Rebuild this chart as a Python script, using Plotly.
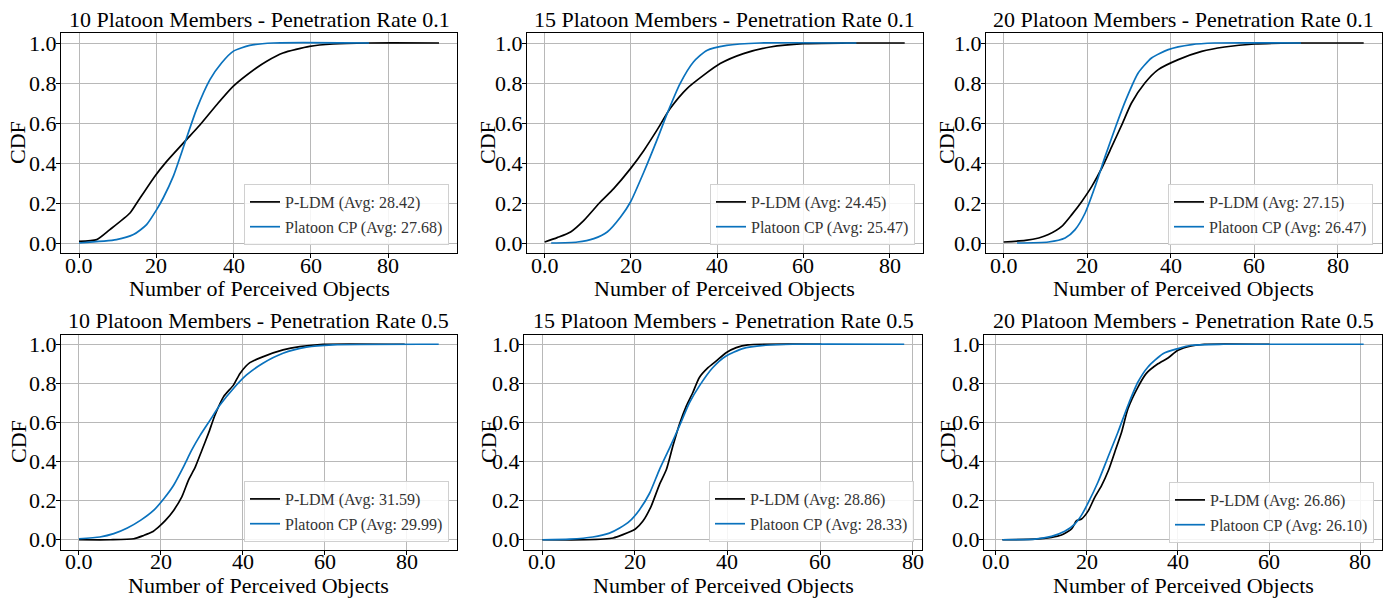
import plotly.graph_objects as go

# ---------------- data ----------------
titles = [
    "10 Platoon Members - Penetration Rate 0.1",
    "15 Platoon Members - Penetration Rate 0.1",
    "20 Platoon Members - Penetration Rate 0.1",
    "10 Platoon Members - Penetration Rate 0.5",
    "15 Platoon Members - Penetration Rate 0.5",
    "20 Platoon Members - Penetration Rate 0.5",
]
ldm_avg = ["28.42", "24.45", "27.15", "31.59", "28.86", "26.86"]
cp_avg = ["27.68", "25.47", "26.47", "29.99", "28.33", "26.10"]

# panel 1: 10 members, rate 0.1
ldm_x_1 = [0, 4.6, 8, 13.2, 15.3, 19.6, 22.7, 27.4, 31.3, 35.6, 39.9, 45.9, 48.5, 52.8, 59.7, 65.8, 75, 93.2]
ldm_y_1 = [0.008, 0.017, 0.067, 0.15, 0.21, 0.333, 0.408, 0.508, 0.59, 0.69, 0.783, 0.875, 0.908, 0.95, 0.983, 0.995, 1.0, 1.0]
cp_x_1 = [0, 9.7, 14.1, 17.5, 20.1, 21.8, 24.4, 27.4, 30.4, 33.9, 36.9, 39.9, 44.2, 50.3, 75.1]
cp_y_1 = [0.0, 0.017, 0.042, 0.092, 0.167, 0.225, 0.333, 0.5, 0.667, 0.817, 0.9, 0.958, 0.988, 1.0, 1.0]

# panel 2: 15 members, rate 0.1
ldm_x_2 = [0, 2.9, 6.0, 9.1, 12.9, 16.0, 19.9, 23.0, 26.0, 29.1, 33.0, 36.8, 40.7, 46.1, 52.3, 60, 70, 83.5]
ldm_y_2 = [0.005, 0.027, 0.055, 0.113, 0.205, 0.272, 0.372, 0.463, 0.563, 0.672, 0.772, 0.838, 0.897, 0.947, 0.98, 0.997, 1.0, 1.0]
cp_x_2 = [1.5, 7.6, 11.4, 14.5, 17.6, 19.9, 23.0, 26.0, 28.4, 31.4, 34.5, 37.6, 42.2, 49.9, 72.3]
cp_y_2 = [0.0, 0.005, 0.022, 0.055, 0.13, 0.205, 0.355, 0.513, 0.647, 0.797, 0.905, 0.963, 0.988, 1.0, 1.0]

# panel 3: 20 members, rate 0.1
ldm_x_3 = [0, 5.2, 8.4, 10.7, 13.9, 16.3, 18.7, 21.1, 23.5, 25.9, 28.3, 30.6, 33.8, 37.0, 41.8, 47.4, 52.9, 60.1, 70, 86.2]
ldm_y_3 = [0.005, 0.013, 0.025, 0.042, 0.083, 0.142, 0.208, 0.283, 0.375, 0.483, 0.592, 0.7, 0.8, 0.867, 0.917, 0.958, 0.98, 0.995, 1.0, 1.0]
cp_x_3 = [3.2, 10.7, 14.7, 17.1, 19.5, 21.9, 24.3, 26.7, 29.1, 32.2, 35.4, 39.4, 45.0, 50.5, 71.2]
cp_y_3 = [0.0, 0.005, 0.025, 0.067, 0.15, 0.283, 0.433, 0.575, 0.708, 0.85, 0.925, 0.967, 0.992, 1.0, 1.0]

# panel 4: 10 members, rate 0.5
ldm_x_4 = [0, 7.7, 13.4, 15.8, 17.8, 19.4, 21.1, 23.1, 25.1, 26.7, 28.4, 30.0, 31.6, 33.2, 35.3, 37.7, 39.3, 41.7, 45.0, 49.8, 53.9, 59.6, 79.5]
ldm_y_4 = [0.0, 0.0, 0.005, 0.022, 0.039, 0.065, 0.099, 0.15, 0.219, 0.304, 0.373, 0.458, 0.544, 0.638, 0.732, 0.791, 0.851, 0.906, 0.937, 0.971, 0.988, 1.0, 1.0]
cp_x_4 = [0, 5.1, 8.5, 11.8, 15.0, 18.2, 20.7, 23.1, 25.5, 27.5, 29.6, 32.0, 34.4, 37.7, 40.9, 44.9, 49.8, 55.5, 62.0, 87.8]
cp_y_4 = [0.005, 0.014, 0.031, 0.06, 0.099, 0.15, 0.21, 0.279, 0.373, 0.458, 0.535, 0.612, 0.689, 0.774, 0.843, 0.903, 0.954, 0.985, 0.997, 1.0]

# panel 5: 15 members, rate 0.5
ldm_x_5 = [0, 9.5, 15.3, 17.4, 20.1, 21.7, 23.5, 25.3, 26.8, 28.2, 29.6, 31.1, 32.5, 33.9, 35.8, 37.6, 39.7, 41.9, 44.4, 60.3]
ldm_y_5 = [0.0, 0.0, 0.009, 0.026, 0.055, 0.094, 0.171, 0.282, 0.359, 0.479, 0.59, 0.684, 0.752, 0.829, 0.88, 0.915, 0.957, 0.983, 0.997, 1.0]
cp_x_5 = [0, 5.9, 10.9, 14.5, 16.7, 18.8, 21.0, 23.2, 25.3, 27.5, 29.6, 31.8, 33.9, 36.8, 39.7, 43.3, 48.3, 54.1, 78.2]
cp_y_5 = [0.0, 0.003, 0.014, 0.034, 0.06, 0.094, 0.154, 0.239, 0.359, 0.47, 0.581, 0.701, 0.786, 0.88, 0.94, 0.978, 0.995, 1.0, 1.0]

# panel 6: 20 members, rate 0.5
ldm_x_6 = [1.4, 8.6, 12.2, 14.4, 16.6, 17.7, 18.8, 20.3, 21.7, 23.2, 24.7, 26.1, 27.6, 29.0, 31.2, 33.0, 35.6, 37.8, 40.0, 42.9, 45.8, 60.1]
ldm_y_6 = [0.0, 0.003, 0.012, 0.024, 0.055, 0.097, 0.106, 0.149, 0.217, 0.277, 0.354, 0.448, 0.55, 0.67, 0.781, 0.85, 0.9, 0.93, 0.969, 0.991, 1.0, 1.0]
cp_x_6 = [1.4, 8.6, 12.2, 15.1, 17.3, 18.8, 20.3, 22.4, 24.6, 26.8, 29.0, 31.2, 33.4, 36.7, 40.0, 42.9, 50, 80.8]
cp_y_6 = [0.0, 0.003, 0.017, 0.043, 0.08, 0.126, 0.191, 0.294, 0.422, 0.55, 0.687, 0.807, 0.884, 0.952, 0.978, 0.995, 1.0, 1.0]

ldm_xs = [ldm_x_1, ldm_x_2, ldm_x_3, ldm_x_4, ldm_x_5, ldm_x_6]
ldm_ys = [ldm_y_1, ldm_y_2, ldm_y_3, ldm_y_4, ldm_y_5, ldm_y_6]
cp_xs = [cp_x_1, cp_x_2, cp_x_3, cp_x_4, cp_x_5, cp_x_6]
cp_ys = [cp_y_1, cp_y_2, cp_y_3, cp_y_4, cp_y_5, cp_y_6]

x_tickvals = [0, 20, 40, 60, 80]
x_ticktext = ["0.0", "20", "40", "60", "80"]
y_tickvals = [0.0, 0.2, 0.4, 0.6, 0.8, 1.0]
y_ticktext = ["0.0", "0.2", "0.4", "0.6", "0.8", "1.0"]
x_title = "Number of Perceived Objects"
y_title = "CDF"

# ---------------- layout geometry ----------------
W, H = 1390, 599
# plot boxes in pixels (left, right, top, bottom)
boxes = [
    (61, 457, 33, 253),
    (526.7, 922.7, 33, 253),
    (985.7, 1381.7, 33, 253),
    (61, 456.7, 334.5, 549.5),
    (524.3, 922.3, 334.5, 549.5),
    (984.3, 1381.7, 334.5, 549.5),
]
# legend bottom-right corner in pixels
legend_corner = [(449, 245), (915, 245), (1373, 245), (449, 542), (914, 542), (1374, 543)]
title_cy = [19.5, 19.5, 19.5, 320, 320, 320]
xtitle_cy = [288.5, 288.5, 288.5, 585, 585, 585]
ytitle_cx = [18, 488, 947, 18, 488, 947]

SERIF = "Liberation Serif, Times New Roman, serif"
BLACK = "#000000"
BLUE = "#0a72bd"
TICKFONT = dict(size=22, family=SERIF, color="black")

fig = go.Figure()

for i in range(6):
    k = "" if i == 0 else str(i + 1)
    leg = "legend" if i == 0 else "legend" + str(i + 1)
    fig.add_trace(go.Scatter(
        x=ldm_xs[i], y=ldm_ys[i], mode="lines",
        line=dict(color=BLACK, width=1.7, shape="spline", smoothing=0.6),
        name="P-LDM (Avg: %s)" % ldm_avg[i], legendgroup="a%d" % i,
        xaxis="x" + k, yaxis="y" + k, legend=leg,
    ))
    fig.add_trace(go.Scatter(
        x=cp_xs[i], y=cp_ys[i], mode="lines",
        line=dict(color=BLUE, width=1.7, shape="spline", smoothing=0.6),
        name="Platoon CP (Avg: %s)" % cp_avg[i], legendgroup="b%d" % i,
        xaxis="x" + k, yaxis="y" + k, legend=leg,
    ))

layout = dict(
    width=W, height=H,
    margin=dict(l=0, r=0, t=0, b=0),
    paper_bgcolor="white", plot_bgcolor="white",
    font=dict(family=SERIF, color="black"),
    annotations=[],
)

for i in range(6):
    k = "" if i == 0 else str(i + 1)
    l, r, t, b = boxes[i]
    xmin = min(min(ldm_xs[i]), min(cp_xs[i]))
    xmax = max(max(ldm_xs[i]), max(cp_xs[i]))
    pad = 0.05 * (xmax - xmin)
    common = dict(
        showticklabels=False,
        ticks="outside", ticklen=4, tickcolor="black", tickwidth=1,
        showline=True, linecolor="black", linewidth=1.2, mirror=True,
        showgrid=True, gridcolor="#b8b8b8", gridwidth=1, zeroline=False,
        automargin=False,
    )
    layout["xaxis" + k] = dict(
        domain=[l / W, r / W], anchor="y" + k,
        range=[xmin - pad, xmax + pad],
        tickvals=x_tickvals, **common,
    )
    layout["yaxis" + k] = dict(
        domain=[1 - b / H, 1 - t / H], anchor="x" + k,
        range=[-0.05, 1.05],
        tickvals=y_tickvals, **common,
    )
    # tick labels placed through the axes' own data scales
    for v, txt in zip(x_tickvals, x_ticktext):
        layout["annotations"].append(dict(
            text=txt, x=v, xref="x" + k, y=1 - (b + 12) / H, yref="paper",
            xanchor="center", yanchor="middle", showarrow=False, font=TICKFONT,
        ))
    for v, txt in zip(y_tickvals, y_ticktext):
        layout["annotations"].append(dict(
            text=txt, x=(l - 2) / W, xref="paper", y=v, yref="y" + k,
            xanchor="right", yanchor="middle", showarrow=False, font=TICKFONT,
        ))
    leg = "legend" if i == 0 else "legend" + str(i + 1)
    lx, ly = legend_corner[i]
    layout[leg] = dict(
        x=lx / W, y=1 - ly / H, xanchor="right", yanchor="bottom",
        xref="paper", yref="paper",
        bgcolor="rgba(255,255,255,0.85)", bordercolor="#d0d0d0", borderwidth=1,
        font=dict(size=16, family=SERIF, color="#333333"),
        tracegroupgap=1, itemwidth=30,
    )
    layout["annotations"].append(dict(
        text=titles[i], x=(l + r) / 2 / W, y=1 - title_cy[i] / H,
        xref="paper", yref="paper", xanchor="center", yanchor="middle",
        showarrow=False, font=dict(size=22, family=SERIF, color="black"),
    ))
    layout["annotations"].append(dict(
        text=x_title, x=(l + r) / 2 / W, y=1 - xtitle_cy[i] / H,
        xref="paper", yref="paper", xanchor="center", yanchor="middle",
        showarrow=False, font=dict(size=22, family=SERIF, color="black"),
    ))
    layout["annotations"].append(dict(
        text=y_title, x=ytitle_cx[i] / W, y=1 - (t + b) / 2 / H,
        xref="paper", yref="paper", xanchor="center", yanchor="middle",
        textangle=-90,
        showarrow=False, font=dict(size=22, family=SERIF, color="black"),
    ))

fig.update_layout(**layout)
fig.write_html(
    "out.html",
    config={"displayModeBar": False},
    post_script="document.body.style.margin='0';document.body.style.overflow='hidden';",
)
